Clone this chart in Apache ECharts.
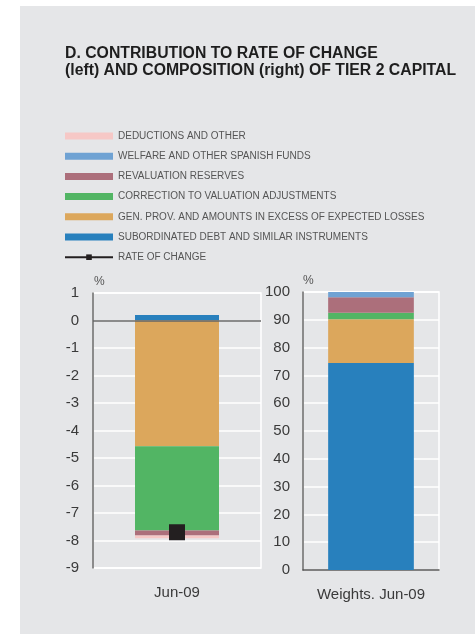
<!DOCTYPE html>
<html>
<head>
<meta charset="utf-8">
<script src="https://cdn.jsdelivr.net/npm/echarts@6/dist/echarts.min.js"></script>
<style>
  html, body { margin: 0; padding: 0; background: #ffffff; }
  #panel { position: absolute; left: 20px; top: 6px; right: 0; bottom: 0; width: 455px; height: 628px; background: #e5e6e8; }
  #chart { position: absolute; left: 0; top: 0; width: 475px; height: 634px; }
</style>
</head>
<body>
<div id="panel"></div>
<div id="chart"></div>
<script>
// Categories for the two panels
const contributionCategories = ['Jun-09'];
const weightCategories = ['Weights. Jun-09'];

// Component names (stacking order, bottom to top)
const componentNames = [
  'SUBORDINATED DEBT AND SIMILAR INSTRUMENTS',
  'GEN. PROV. AND AMOUNTS IN EXCESS OF EXPECTED LOSSES',
  'CORRECTION TO VALUATION ADJUSTMENTS',
  'REVALUATION RESERVES',
  'WELFARE AND OTHER SPANISH FUNDS',
  'DEDUCTIONS AND OTHER'
];
const componentColors = ['#2880bd', '#dca75c', '#52b564', '#ac6f7b', '#6fa2d3', '#f6c8c6'];

// Contribution to rate of change (pp), Jun-09
const contributionValues = [0.2, -4.57, -3.07, -0.18, 0, -0.1];
// Composition weights (%), Jun-09
const weightValues = [74.5, 15.7, 2.3, 5.6, 1.9, 0];
// Rate of change (%)
const rateOfChange = [-7.7];
const rateName = 'RATE OF CHANGE';

// Axis ticks
const leftAxis = { min: -9, max: 1, interval: 1 };
const rightAxis = { min: 0, max: 100, interval: 10 };

const chart = echarts.init(document.getElementById('chart'), null, { renderer: 'canvas' });

const font = 'Liberation Sans, Arial, Helvetica, sans-serif';
const axisLabelStyle = { fontSize: 15, color: '#3a3a3a', fontFamily: font };

const series = [];
componentNames.forEach((name, i) => {
  const s = {
    name: name,
    type: 'bar',
    stack: 'contribution',
    xAxisIndex: 0,
    yAxisIndex: 0,
    barWidth: '50%',
    itemStyle: { color: componentColors[i] },
    data: [contributionValues[i]]
  };
  if (i === 0) {
    // zero reference line across the left panel
    s.markLine = {
      silent: true,
      symbol: 'none',
      label: { show: false },
      lineStyle: { color: '#666', width: 1.5, type: 'solid' },
      data: [{ yAxis: 0 }]
    };
  }
  series.push(s);
});
componentNames.forEach((name, i) => {
  series.push({
    name: name,
    type: 'bar',
    stack: 'weights',
    xAxisIndex: 1,
    yAxisIndex: 1,
    barWidth: '63%',
    itemStyle: { color: componentColors[i] },
    data: [weightValues[i]]
  });
});
series.push({
  name: rateName,
  type: 'line',
  xAxisIndex: 0,
  yAxisIndex: 0,
  symbol: 'rect',
  symbolSize: 16,
  z: 5,
  itemStyle: { color: '#231f20' },
  lineStyle: { color: '#231f20', width: 2 },
  data: rateOfChange
});

const legendData = componentNames.slice().reverse().map(n => ({ name: n, icon: 'rect' }));
legendData.push({ name: rateName });

chart.setOption({
  animation: false,
  title: {
    text: 'D. CONTRIBUTION TO RATE OF CHANGE\n(left) AND COMPOSITION (right) OF TIER 2 CAPITAL',
    left: 65,
    top: 45,
    padding: 0,
    textStyle: { fontSize: 15.8, fontWeight: 'bold', color: '#1e1e1e', lineHeight: 17, fontFamily: font }
  },
  legend: {
    orient: 'vertical',
    left: 64,
    top: 131,
    padding: 0,
    itemWidth: 48,
    itemHeight: 7,
    itemGap: 10.2,
    itemTextGap: 5,
    selectedMode: false,
    textStyle: { fontSize: 10, color: '#555', lineHeight: 10, fontFamily: font },
    data: legendData
  },
  grid: [
    { left: 93, top: 293, width: 168, height: 275, show: true, borderColor: '#ffffff', borderWidth: 1.5, backgroundColor: 'transparent' },
    { left: 303, top: 292, width: 136, height: 278, show: true, borderColor: '#ffffff', borderWidth: 1.5, backgroundColor: 'transparent' }
  ],
  xAxis: [
    {
      type: 'category', gridIndex: 0, data: contributionCategories,
      axisLine: { show: false, onZero: false },
      axisTick: { show: false },
      axisLabel: Object.assign({ margin: 17 }, axisLabelStyle)
    },
    {
      type: 'category', gridIndex: 1, data: weightCategories,
      axisLine: { show: true, lineStyle: { color: '#555', width: 1.5 } },
      axisTick: { show: false },
      axisLabel: Object.assign({ margin: 17 }, axisLabelStyle)
    }
  ],
  yAxis: [
    {
      type: 'value', gridIndex: 0, min: leftAxis.min, max: leftAxis.max, interval: leftAxis.interval,
      name: '%', nameGap: 5,
      nameTextStyle: { align: 'left', fontSize: 12, color: '#555', fontFamily: font, padding: [0, 0, 0, 1] },
      axisLine: { show: true, lineStyle: { color: '#666', width: 1.5 } },
      axisTick: { show: false },
      axisLabel: Object.assign({ margin: 14 }, axisLabelStyle),
      splitLine: { show: true, lineStyle: { color: '#ffffff', width: 1.5 } }
    },
    {
      type: 'value', gridIndex: 1, min: rightAxis.min, max: rightAxis.max, interval: rightAxis.interval,
      name: '%', nameGap: 5,
      nameTextStyle: { align: 'left', fontSize: 12, color: '#555', fontFamily: font, padding: [0, 0, 0, 0] },
      axisLine: { show: true, lineStyle: { color: '#666', width: 1.5 } },
      axisTick: { show: false },
      axisLabel: Object.assign({ margin: 13 }, axisLabelStyle),
      splitLine: { show: true, lineStyle: { color: '#ffffff', width: 1.5 } }
    }
  ],
  series: series
});
</script>
</body>
</html>
